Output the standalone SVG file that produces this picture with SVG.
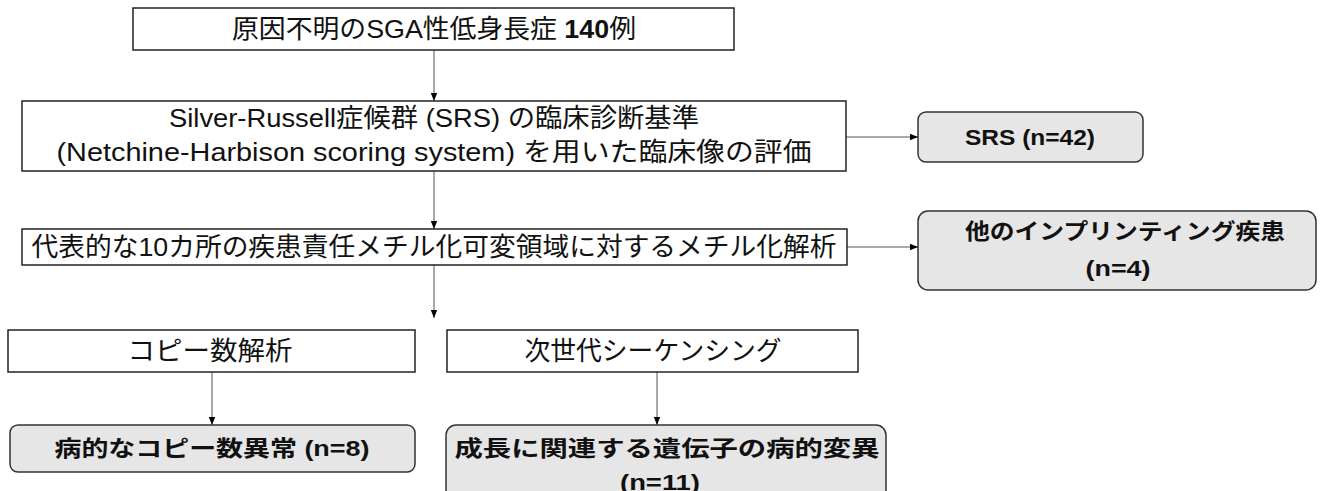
<svg xmlns="http://www.w3.org/2000/svg" width="1329" height="491" viewBox="0 0 1329 491">
<style>
.box{fill:#fff;stroke:#222;stroke-width:1.5}
.rbox{fill:#e6e6e6;stroke:#333;stroke-width:1.5}
.t{font-family:"Liberation Sans","Noto Sans CJK JP",sans-serif;font-size:26px;fill:#111;text-anchor:middle}
.b{font-family:"Liberation Sans","Noto Sans CJK JP",sans-serif;font-size:22px;font-weight:bold;fill:#111;text-anchor:middle}
.c{stroke:#555;stroke-width:1;fill:none}
</style>
<defs>
<marker id="ah" viewBox="0 0 10 10" refX="10" refY="5" markerWidth="8" markerHeight="8" markerUnits="userSpaceOnUse" orient="auto">
<path d="M0,1 L10,5 L0,9 z" fill="#000"/>
</marker>
</defs>
<rect width="1329" height="491" fill="#fff"/>
<g id="connectors">
<line class="c" x1="434" y1="50" x2="434" y2="101" marker-end="url(#ah)"/>
<line class="c" x1="846" y1="137" x2="918" y2="137" marker-end="url(#ah)"/>
<line class="c" x1="434" y1="171" x2="434" y2="229" marker-end="url(#ah)"/>
<line class="c" x1="847" y1="247" x2="918" y2="247" marker-end="url(#ah)"/>
<line class="c" x1="434" y1="265" x2="434" y2="318" marker-end="url(#ah)"/>
<line class="c" x1="212" y1="372" x2="212" y2="425" marker-end="url(#ah)"/>
<line class="c" x1="657" y1="372" x2="657" y2="425" marker-end="url(#ah)"/>
</g>
<g id="n1">
<rect class="box" x="133" y="8" width="601" height="42"/>
<text class="t" x="434" y="38" textLength="404" lengthAdjust="spacingAndGlyphs">原因不明のSGA性低身長症 <tspan font-weight="bold">140</tspan>例</text>
</g>
<g id="n2">
<rect class="box" x="22" y="101" width="824" height="70"/>
<text class="t" x="434" y="127" textLength="530" lengthAdjust="spacingAndGlyphs">Silver-Russell症候群 (SRS) の臨床診断基準</text>
<text class="t" x="434" y="161" textLength="755" lengthAdjust="spacingAndGlyphs">(Netchine-Harbison scoring system) を用いた臨床像の評価</text>
</g>
<g id="n3">
<rect class="rbox" x="918" y="112" width="225" height="50" rx="8"/>
<text class="b" x="1030" y="145" textLength="130" lengthAdjust="spacingAndGlyphs">SRS (n=42)</text>
</g>
<g id="n4">
<rect class="box" x="22" y="229" width="825" height="36"/>
<text class="t" x="434" y="256" textLength="805" lengthAdjust="spacingAndGlyphs">代表的な10カ所の疾患責任メチル化可変領域に対するメチル化解析</text>
</g>
<g id="n5">
<rect class="rbox" x="918" y="211" width="398" height="79" rx="10"/>
<text class="b" x="1125" y="239" textLength="320" lengthAdjust="spacingAndGlyphs">他のインプリンティング疾患</text>
<text class="b" x="1118" y="276" textLength="65" lengthAdjust="spacingAndGlyphs">(n=4)</text>
</g>
<g id="n6">
<rect class="box" x="8" y="330" width="407" height="42"/>
<text class="t" x="210" y="360" textLength="165" lengthAdjust="spacingAndGlyphs">コピー数解析</text>
</g>
<g id="n7">
<rect class="box" x="447" y="330" width="411" height="42"/>
<text class="t" x="653" y="360" textLength="257" lengthAdjust="spacingAndGlyphs">次世代シーケンシング</text>
</g>
<g id="n8">
<rect class="rbox" x="10" y="425" width="405" height="47" rx="8"/>
<text class="b" x="212" y="456" textLength="315" lengthAdjust="spacingAndGlyphs">病的なコピー数異常 (n=8)</text>
</g>
<g id="n9">
<rect class="rbox" x="446" y="425" width="440" height="75" rx="10"/>
<text class="b" x="667" y="456" textLength="425" lengthAdjust="spacingAndGlyphs">成長に関連する遺伝子の病的変異</text>
<text class="b" x="660" y="490" textLength="80" lengthAdjust="spacingAndGlyphs">(n=11)</text>
</g>
</svg>
